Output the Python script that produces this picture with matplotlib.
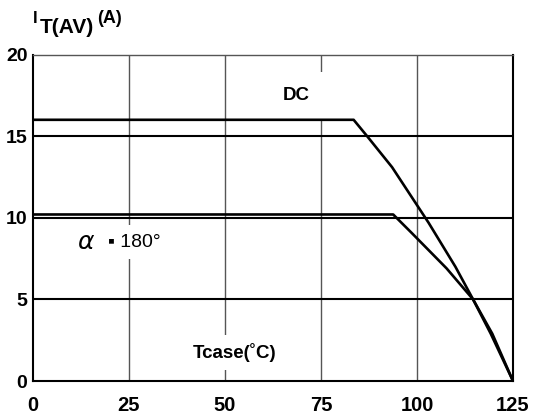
import numpy as np
import matplotlib
matplotlib.use('Agg')
from matplotlib import pyplot as plt

plt.rcParams['font.family'] = ['Liberation Sans', 'DejaVu Sans']

# derating curves (Tcase in C, I_T(AV) in A)
dc_t = [0, 83.5, 87, 93.5, 103, 110, 114.6, 119.6, 125]
dc_i = [16, 16, 15, 13.1, 9.7, 7.0, 5.0, 2.9, 0]
a180_t = [0, 93.8, 98.7, 107.7, 114.6, 119.2, 125]
a180_i = [10.2, 10.2, 9.05, 6.9, 5.0, 2.9, 0]

xticks = [0, 25, 50, 75, 100, 125]
yticks = [0, 5, 10, 15, 20]

W, H = 535, 415
fig = plt.figure(figsize=(W / 100, H / 100), dpi=100)
ax = fig.add_axes([33 / W, 34 / H, 480 / W, 326.5 / H])


def px(x, y):
    return x / W, 1 - y / H


# grid: thin grey verticals, black horizontals
for t in xticks[1:-1]:
    ax.axvline(t, color='#555555', lw=1.0, zorder=1)
for v in yticks[1:-1]:
    ax.axhline(v, color='black', lw=1.5, zorder=1)

ax.plot(dc_t, dc_i, color='black', lw=1.9, zorder=3)
ax.plot(a180_t, a180_i, color='black', lw=1.9, zorder=3)

ax.set_xlim(0, 125)
ax.set_ylim(0, 20)
ax.set_xticks(xticks)
ax.set_yticks(yticks)
ax.tick_params(length=0)
ax.tick_params(axis='x', pad=11, labelsize=14.5)
ax.tick_params(axis='y', pad=4, labelsize=14)
for lab in ax.get_xticklabels() + ax.get_yticklabels():
    lab.set_fontweight('bold')

for s in ['left', 'bottom', 'right']:
    ax.spines[s].set_linewidth(1.5)
    ax.spines[s].set_color('black')
ax.spines['top'].set_linewidth(1.0)
ax.spines['top'].set_color('#555555')

box = dict(facecolor='white', edgecolor='none', pad=6)
ax.text(68.6, 17.5, 'DC', ha='center', va='center', fontsize=13.5,
        fontweight='bold', bbox=dict(facecolor='white', edgecolor='none', pad=11),
        zorder=2)
ax.text(52.6, 1.75, 'Tcase(\u02daC)', ha='center', va='center', fontsize=13.5,
        fontweight='bold', bbox=box, zorder=2)
ax.text(11.6, 8.5, '\u03b1', ha='left', va='center', fontsize=18,
        fontstyle='italic', family=['DejaVu Sans'], bbox=box, zorder=2)
ax.text(19.5, 8.5, '\u25aa 180\u00b0', ha='left', va='center', fontsize=14,
        family=['Liberation Sans', 'DejaVu Sans'], bbox=box, zorder=2)

# axis title I_T(AV) (A)
fig.text(*px(33, 23), 'I', fontsize=12, fontweight='bold', va='baseline')
fig.text(*px(40, 33), 'T(AV)', fontsize=15, fontweight='bold', va='baseline')
fig.text(*px(97, 23), '(A)', fontsize=13, fontweight='bold', va='baseline')

fig.savefig('out.png', dpi=100)
